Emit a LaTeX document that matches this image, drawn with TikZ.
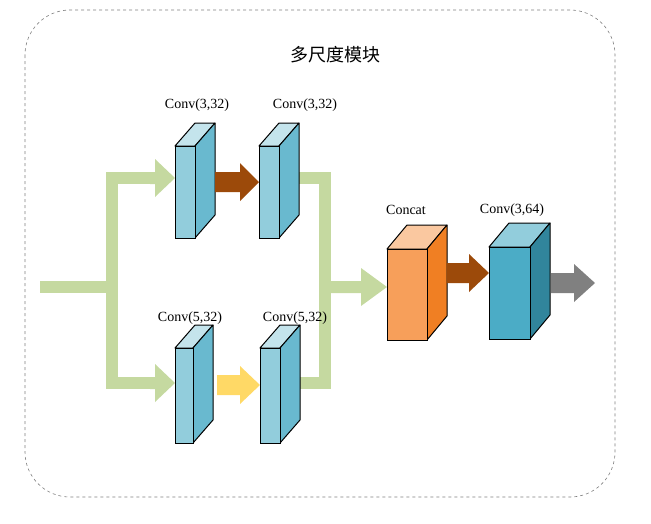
\documentclass[tikz,border=0pt]{standalone}
\usepackage{fontspec}
\setmainfont{Liberation Serif}
\newfontfamily\cjk{Noto Sans CJK SC}
\begin{document}
\definecolor{grn}{HTML}{C5D9A0}
\definecolor{bF}{HTML}{92CDDC}\definecolor{bS}{HTML}{69B9CF}\definecolor{bT}{HTML}{C4E4EC}
\definecolor{oF}{HTML}{F79F5A}\definecolor{oS}{HTML}{F07F23}\definecolor{oT}{HTML}{FAC8A0}
\definecolor{cF}{HTML}{4BACC6}\definecolor{cS}{HTML}{31859C}\definecolor{cT}{HTML}{92CDDC}
\definecolor{brn}{HTML}{9C4A0A}\definecolor{ylw}{HTML}{FFD966}\definecolor{gry}{HTML}{808080}
\newcommand\myblock[8]{% x1 x2 ytop ybot front side top dx
 \fill[#7,draw=black,line width=1pt,line join=round] (#1,#3)--(#1+20,#3-#8)--(#2+20,#3-#8)--(#2,#3)--cycle;
 \fill[#6,draw=black,line width=1pt,line join=round] (#2,#3)--(#2+20,#3-#8)--(#2+20,#4-#8)--(#2,#4)--cycle;
 \fill[#5,draw=black,line width=1pt] (#1,#3) rectangle (#2,#4);}
\newcommand\fatarrow[6]{% xstart xhead xtip y halfbody color
 \fill[#6] (#1,#4-#5)--(#2,#4-#5)--(#2,#4-19)--(#3,#4)--(#2,#4+19)--(#2,#4+#5)--(#1,#4+#5)--cycle;}
\begin{tikzpicture}[x=1pt,y=-1pt,lbl/.style={font=\fontsize{14}{16}\selectfont,inner sep=0pt},
 gl/.style={draw=grn,line width=12pt}]
\useasboundingbox (0,0) rectangle (651,523);
\draw[dashed,gray,line width=0.6pt,rounded corners=45pt] (25,10) rectangle (615,497);
\node[font=\cjk\fontsize{18}{20}\selectfont] (title) at (335,55) {多尺度模块};
% green paths
\draw[gl] (40,287) -- (118,287);
\draw[gl] (112,172) -- (112,389);
\draw[gl] (106,178) -- (156,178);
\draw[gl] (106,383) -- (156,383);
\fatarrow{150}{155}{175}{178}{6}{grn}
\fatarrow{150}{155}{175}{383}{6}{grn}
\draw[gl,line join=miter] (296,178) -- (325,178) -- (325,287);
\draw[gl,line join=miter] (296,383) -- (325,383) -- (325,287);
\fatarrow{325}{361}{387}{287}{6}{grn}
% blocks
\myblock{175}{195}{146}{238}{bF}{bS}{bT}{23}
\myblock{259}{279}{146}{238}{bF}{bS}{bT}{23}
\myblock{175}{193}{348}{443}{bF}{bS}{bT}{23}
\myblock{260}{280}{348}{443}{bF}{bS}{bT}{23}
\myblock{387}{427}{249}{340}{oF}{oS}{oT}{24}
\myblock{489}{530}{247}{339}{cF}{cS}{cT}{24}
% arrows
\fatarrow{215}{240}{259}{182}{10}{brn}
\fatarrow{217}{240}{260}{385}{10}{ylw}
\fatarrow{447}{469}{489}{273}{10}{brn}
\fatarrow{551}{574}{595}{283}{10}{gry}
% labels
\node[lbl] (l1) at (197,105) {Conv(3,32)};
\node[lbl] (l2) at (305,105) {Conv(3,32)};
\node[lbl] (l3) at (190,318) {Conv(5,32)};
\node[lbl] (l4) at (295,318) {Conv(5,32)};
\node[lbl] (l5) at (406,210) {Concat};
\node[lbl] (l6) at (512,210) {Conv(3,64)};
\end{tikzpicture}
\end{document}
